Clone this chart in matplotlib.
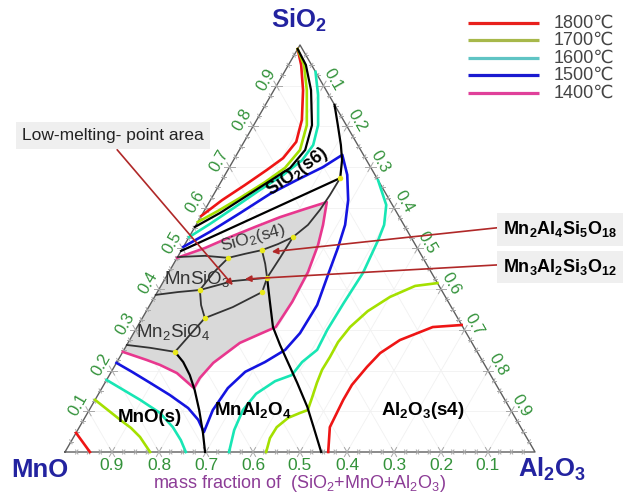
"""MnO-SiO2-Al2O3 liquidus projection with isotherms"""
import numpy as np
import matplotlib.pyplot as plt

plt.rcParams['font.family'] = ['Liberation Sans', 'DejaVu Sans']
plt.rcParams['mathtext.fontset'] = 'custom'
plt.rcParams['mathtext.rm'] = 'Liberation Sans'
plt.rcParams['mathtext.it'] = 'Liberation Sans:italic'
plt.rcParams['mathtext.bf'] = 'Liberation Sans:bold'

# compositions are mass fractions of SiO2 and Al2O3, MnO is the balance
# 1800 C isotherm: silica, alumina and manganosite branches
t1800_si_sio2 = [0.99, 0.951, 0.889, 0.816, 0.762, 0.722, 0.693, 0.656, 0.619, 0.58]
t1800_si_al2o3 = [0.0, 0.027, 0.062, 0.096, 0.111, 0.103, 0.083, 0.055, 0.025, 0.0]
t1800_al_sio2 = [0.312, 0.307, 0.275, 0.243, 0.209, 0.165, 0.128, 0.061, 0.0]
t1800_al_al2o3 = [0.688, 0.629, 0.575, 0.549, 0.538, 0.528, 0.528, 0.533, 0.560]
t1800_mn_sio2 = [0.047, 0.0]
t1800_mn_al2o3 = [0.0, 0.053]

# 1700 C
t1700_si_sio2 = [0.99, 0.951, 0.889, 0.803, 0.742, 0.698, 0.663, 0.624, 0.592, 0.565]
t1700_si_al2o3 = [0.0, 0.033, 0.070, 0.113, 0.129, 0.119, 0.094, 0.060, 0.029, 0.0]
t1700_al_sio2 = [0.415, 0.408, 0.381, 0.346, 0.307, 0.270, 0.233, 0.202, 0.170, 0.133,
                 0.103, 0.096, 0.084, 0.061, 0.034, 0.0]
t1700_al_al2o3 = [0.585, 0.541, 0.501, 0.471, 0.453, 0.446, 0.447, 0.446, 0.451, 0.459,
                  0.465, 0.452, 0.433, 0.420, 0.419, 0.428]
t1700_mn_sio2 = [0.128, 0.079, 0.059, 0.037, 0.0]
t1700_mn_al2o3 = [0.0, 0.078, 0.111, 0.141, 0.181]

# 1600 C
t1600_si_sio2 = [0.934, 0.877, 0.803, 0.754, 0.717, 0.681, 0.644, 0.602, 0.560, 0.528]
t1600_si_al2o3 = [0.066, 0.100, 0.137, 0.151, 0.146, 0.124, 0.093, 0.061, 0.028, 0.0]
t1600_al_sio2 = [0.668, 0.607, 0.558, 0.521, 0.440, 0.366, 0.300, 0.251, 0.221, 0.189,
                 0.174, 0.143, 0.103, 0.054, 0.0]
t1600_al_al2o3 = [0.332, 0.380, 0.400, 0.406, 0.414, 0.410, 0.408, 0.411, 0.394, 0.388,
                  0.360, 0.335, 0.327, 0.333, 0.349]
t1600_mn_sio2 = [0.177, 0.128, 0.096, 0.061, 0.029, 0.0]
t1600_mn_al2o3 = [0.0, 0.096, 0.154, 0.199, 0.232, 0.257]

# 1500 C, one continuous line
t1500_sio2 = [0.504, 0.541, 0.587, 0.634, 0.668, 0.700, 0.730, 0.681, 0.619, 0.558,
              0.501, 0.435, 0.361, 0.292, 0.251, 0.221, 0.197, 0.157, 0.103, 0.049,
              0.079, 0.108, 0.140, 0.170, 0.197, 0.219]
t1500_al2o3 = [0.0, 0.038, 0.079, 0.119, 0.159, 0.199, 0.225, 0.260, 0.293, 0.317,
               0.330, 0.342, 0.356, 0.354, 0.343, 0.315, 0.285, 0.268, 0.263, 0.271,
               0.244, 0.208, 0.153, 0.096, 0.044, 0.0]

# 1400 C, closes on the SiO2-MnO side
t1400_sio2 = [0.477, 0.501, 0.528, 0.553, 0.577, 0.597, 0.614, 0.558, 0.509, 0.442,
              0.369, 0.307, 0.288, 0.268, 0.219, 0.182, 0.157, 0.194, 0.214, 0.226, 0.246]
t1400_al2o3 = [0.0, 0.047, 0.087, 0.128, 0.169, 0.212, 0.250, 0.270, 0.284, 0.296,
               0.299, 0.295, 0.267, 0.238, 0.206, 0.196, 0.196, 0.141, 0.095, 0.061, 0.0]

temps = ['1800℃', '1700℃', '1600℃', '1500℃', '1400℃']

# primary-phase field boundaries
b_s6_sio2 = [0.99, 0.951, 0.889, 0.803, 0.742, 0.698, 0.666, 0.627, 0.587, 0.553]
b_s6_al2o3 = [0.0, 0.037, 0.079, 0.124, 0.140, 0.130, 0.103, 0.070, 0.036, 0.0]
b_s4_sio2 = [0.853, 0.803, 0.754, 0.717, 0.673]
b_s4_al2o3 = [0.147, 0.179, 0.210, 0.231, 0.249]
b_low_sio2 = [0.673, 0.494]
b_low_al2o3 = [0.249, 0.0]
b_mno_sio2 = [0.246, 0.221, 0.189, 0.152, 0.103, 0.047, 0.0]
b_mno_al2o3 = [0.111, 0.141, 0.171, 0.200, 0.234, 0.270, 0.298]
b_spinel_sio2 = [0.428, 0.373, 0.307, 0.263, 0.226, 0.170, 0.111, 0.059, 0.0]
b_spinel_al2o3 = [0.216, 0.249, 0.289, 0.326, 0.359, 0.409, 0.460, 0.500, 0.545]

# boundaries inside the low-melting region (SiO2, Al2O3 pairs)
net_lines = [
    ([0.479, 0.482, 0.477], [0.0, 0.057, 0.109]),
    ([0.477, 0.487, 0.496, 0.511, 0.528], [0.109, 0.140, 0.171, 0.198, 0.221]),
    ([0.528, 0.558, 0.595, 0.631, 0.673], [0.221, 0.238, 0.245, 0.248, 0.249]),
    ([0.477, 0.442, 0.398], [0.109, 0.096, 0.088]),
    ([0.398, 0.393, 0.386], [0.088, 0.044, 0.0]),
    ([0.398, 0.361, 0.329], [0.088, 0.109, 0.133]),
    ([0.329, 0.288, 0.246], [0.133, 0.122, 0.111]),
    ([0.246, 0.256, 0.263], [0.111, 0.053, 0.0]),
    ([0.398, 0.420, 0.428], [0.088, 0.147, 0.216]),
    ([0.329, 0.356, 0.393], [0.133, 0.179, 0.223]),
    ([0.496, 0.462, 0.428], [0.171, 0.195, 0.216]),
    ([0.428, 0.393], [0.216, 0.223]),
    ([0.428, 0.477, 0.528], [0.216, 0.219, 0.221]),
]
node_sio2 = [0.673, 0.528, 0.496, 0.477, 0.398, 0.428, 0.393, 0.329, 0.246]
node_al2o3 = [0.249, 0.221, 0.171, 0.109, 0.088, 0.216, 0.223, 0.133, 0.111]

H = np.sqrt(3) / 2


def tern(sio2, al2o3):
    s = np.asarray(sio2, float)
    a = np.asarray(al2o3, float)
    return a + s / 2, s * H


fig = plt.figure(figsize=(6.23, 4.95), dpi=100)
ax = fig.add_axes([0, 0, 1, 1])
ax.set_xlim(-65 / 470, 558 / 470)
ax.set_ylim(-43 / 470, 452 / 470)
ax.axis('off')

# faint grid
for v in np.arange(1, 10) / 10:
    kw = dict(color='#f1f1f1', lw=0.6, zorder=0)
    ax.plot(*tern([v, v], [0, 1 - v]), **kw)
    ax.plot(*tern([0, 1 - v], [v, v]), **kw)
    ax.plot(*tern([0, 1 - v], [1 - v, 0]), **kw)

# low-melting area
ax.fill(*tern(t1400_sio2, t1400_al2o3), color='#d9d9d9', lw=0, zorder=1)

# triangle
ax.plot(*tern([0, 0, 1, 0], [0, 1, 0, 0]), color='#5e5e5e', lw=1.0, zorder=2)

# tick marks
dirs = {'b': [(0.5, H), (-0.5, H)], 'l': [(1, 0), (-0.5, H)], 'r': [(1, 0), (0.5, H)]}
for k in range(1, 40):
    v = k / 40
    hl = 0.011 if k % 4 == 0 else 0.005
    pts = {'b': (1 - v, 0.0), 'l': (v / 2, v * H), 'r': ((1 + v) / 2, (1 - v) * H)}
    for side, (px, py) in pts.items():
        for dx, dy in dirs[side]:
            ax.plot([px - hl * dx, px + hl * dx], [py - hl * dy, py + hl * dy],
                    color='#a8a8a8', lw=0.7, zorder=2)

# tick labels
green = '#33923a'
for k in range(1, 10):
    v = k / 10
    lab = f'{v:.1f}'
    ax.text(1 - v, -0.029, lab, ha='center', va='center', fontsize=12.5, color=green)
    x, y = v / 2, v * H
    ax.text(x - 0.026 * 0.866, y + 0.026 * 0.5, lab, ha='center', va='center',
            rotation=60, fontsize=12, color=green)
    x, y = (1 + v) / 2, (1 - v) * H
    ax.text(x + 0.024 * 0.866, y + 0.024 * 0.5, lab, ha='center', va='center',
            rotation=-60, fontsize=12, color=green)

# isotherms
c1800, c1700, c1600, c1500, c1400 = '#ee1515', '#a4e000', '#18e6b4', '#1414e0', '#e8378e'
lw = 1.9
for s, a in [(t1800_si_sio2, t1800_si_al2o3), (t1800_al_sio2, t1800_al_al2o3),
             (t1800_mn_sio2, t1800_mn_al2o3)]:
    ax.plot(*tern(s, a), color=c1800, lw=lw, zorder=4, solid_joinstyle='round')
for s, a in [(t1700_si_sio2, t1700_si_al2o3), (t1700_al_sio2, t1700_al_al2o3),
             (t1700_mn_sio2, t1700_mn_al2o3)]:
    ax.plot(*tern(s, a), color=c1700, lw=lw, zorder=4, solid_joinstyle='round')
for s, a in [(t1600_si_sio2, t1600_si_al2o3), (t1600_al_sio2, t1600_al_al2o3),
             (t1600_mn_sio2, t1600_mn_al2o3)]:
    ax.plot(*tern(s, a), color=c1600, lw=lw, zorder=4, solid_joinstyle='round')
ax.plot(*tern(t1500_sio2, t1500_al2o3), color=c1500, lw=lw, zorder=4, solid_joinstyle='round')
ax.plot(*tern(t1400_sio2, t1400_al2o3), color=c1400, lw=lw, zorder=4, solid_joinstyle='round')

# phase boundaries
for s, a in [(b_s6_sio2, b_s6_al2o3), (b_s4_sio2, b_s4_al2o3), (b_low_sio2, b_low_al2o3),
             (b_mno_sio2, b_mno_al2o3), (b_spinel_sio2, b_spinel_al2o3)]:
    ax.plot(*tern(s, a), color='black', lw=1.6, zorder=5, solid_joinstyle='round')
for s, a in net_lines:
    ax.plot(*tern(s, a), color='#333333', lw=1.3, zorder=5, solid_joinstyle='round')
ax.plot(*tern(node_sio2, node_al2o3), 'o', ms=4, color='#e8e81a', mec='none', zorder=6)

# corner labels
navy = '#2323a0'
ax.text(0.498, 0.919, r'SiO$_\mathbf{2}$', ha='center', va='center', fontsize=18.5,
        fontweight='bold', color=navy)
ax.text(-0.053, -0.038, 'MnO', ha='center', va='center', fontsize=18.5,
        fontweight='bold', color=navy)
ax.text(1.036, -0.038, r'Al$_\mathbf{2}$O$_\mathbf{3}$', ha='center', va='center',
        fontsize=18.5, fontweight='bold', color=navy)
ax.text(0.5, -0.067, r'mass fraction of  (SiO$_2$+MnO+Al$_2$O$_3$)', ha='center',
        va='center', fontsize=13, color='#8c3c96')

# field labels
ax.text(0.494, 0.596, r'SiO$_\mathbf{2}$(s6)', ha='center', va='center', rotation=35,
        fontsize=13, fontweight='bold', zorder=7)
ax.text(0.400, 0.455, r'SiO$_2$(s4)', ha='center', va='center', rotation=15,
        fontsize=12.5, color='#3a3a3a', zorder=7)
ax.text(0.281, 0.368, r'MnSiO$_3$', ha='center', va='center', fontsize=13.5,
        color='#333333', zorder=7)
ax.text(0.230, 0.255, r'Mn$_2$SiO$_4$', ha='center', va='center', fontsize=13.5,
        color='#333333', zorder=7)
ax.text(0.181, 0.074, 'MnO(s)', ha='center', va='center', fontsize=13.5,
        fontweight='bold', zorder=7)
ax.text(0.400, 0.089, r'MnAl$_\mathbf{2}$O$_\mathbf{4}$', ha='center', va='center',
        fontsize=13.5, fontweight='bold', zorder=7)
ax.text(0.762, 0.089, r'Al$_\mathbf{2}$O$_\mathbf{3}$(s4)', ha='center', va='center',
        fontsize=13.5, fontweight='bold', zorder=7)

# callouts
arrow = dict(arrowstyle='-|>', color='#b02828', lw=1.2, mutation_scale=9,
             shrinkA=0, shrinkB=0)
box = dict(boxstyle='square,pad=0.35', fc='#efefef', ec='none')
ax.annotate('', xy=(0.357, 0.355), xytext=(0.111, 0.643), arrowprops=arrow, zorder=8)
ax.text(0.102, 0.674, 'Low-melting- point area', ha='center', va='center',
        fontsize=12.5, color='#222222', bbox=box, zorder=8)
ax.annotate('', xy=(0.440, 0.426), xytext=(0.919, 0.477), arrowprops=arrow, zorder=8)
ax.text(1.053, 0.474, r'Mn$_\mathbf{2}$Al$_\mathbf{4}$Si$_\mathbf{5}$O$_\mathbf{18}$',
        ha='center', va='center', fontsize=13, fontweight='bold', bbox=box, zorder=8)
ax.annotate('', xy=(0.383, 0.368), xytext=(0.919, 0.398), arrowprops=arrow, zorder=8)
ax.text(1.053, 0.394, r'Mn$_\mathbf{3}$Al$_\mathbf{2}$Si$_\mathbf{3}$O$_\mathbf{12}$',
        ha='center', va='center', fontsize=13, fontweight='bold', bbox=box, zorder=8)

# isotherm key
key_colors = ['#e8201c', '#a7b84a', '#5fc4c4', '#1a1ad0', '#e0409a']
for i, (t, c) in enumerate(zip(temps, key_colors)):
    y = 0.913 - i * 0.0372
    ax.plot([0.857, 1.009], [y, y], color=c, lw=2.3, solid_capstyle='butt')
    ax.text(1.040, y, t, ha='left', va='center', fontsize=13, color='#444444')

fig.savefig('out.png', dpi=100)
